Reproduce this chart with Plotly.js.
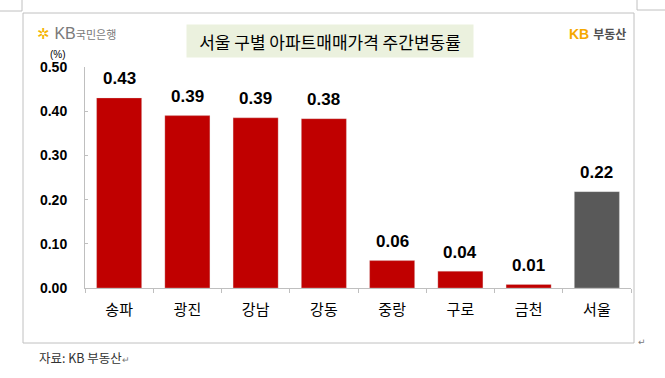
<!DOCTYPE html>
<html>
<head>
<meta charset="utf-8">
<script src="https://cdn.plot.ly/plotly-3.0.1.min.js"></script>
<style>
  html, body { margin: 0; padding: 0; background: #ffffff; }
  #chart { width: 665px; height: 378px; }
</style>
</head>
<body>
<div id="chart"></div>
<script>
// ---- data ----
const categories = ['송파', '광진', '강남', '강동', '중랑', '구로', '금천', '서울'];
const changeRates = [0.43, 0.39, 0.385, 0.383, 0.062, 0.038, 0.008, 0.218];
const valueLabels = ['0.43', '0.39', '0.39', '0.38', '0.06', '0.04', '0.01', '0.22'];
const yTickValues = [0, 0.1, 0.2, 0.3, 0.4, 0.5];
const yTickLabels = ['0.00', '0.10', '0.20', '0.30', '0.40', '0.50'];
const chartTitle = '서울 구별 아파트매매가격 주간변동률';
const unitLabel = '(%)';
const sourceLabel = '자료: KB 부동산';

// ---- layout helpers (plot area: x 85..631, y 67..288) ----
const L = 85, R = 631, T = 67, B = 288;
const xp = px => (px - L) / (R - L);
const yp = py => (B - py) / (B - T);

const RED = '#c00000', GRAY = '#595959';
const barColors = categories.map(c => c === '서울' ? GRAY : RED);

const trace = {
  type: 'bar',
  x: categories,
  y: changeRates,
  marker: { color: barColors, line: { color: 'rgba(220,220,220,0.6)', width: 0.5 } },
  hoverinfo: 'skip'
};

const labelAnnotations = categories.map((c, i) => ({
  x: c, y: changeRates[i], xref: 'x', yref: 'y',
  text: valueLabels[i], showarrow: false,
  xanchor: 'center', yanchor: 'middle', yshift: 19,
  font: { family: 'Liberation Sans, Arial, sans-serif', size: 17, color: '#000', weight: 'bold' }
}));

const annotations = labelAnnotations.concat([
  { // title box
    x: xp(330), y: yp(41), xref: 'paper', yref: 'paper',
    text: chartTitle, showarrow: false, xanchor: 'center', yanchor: 'middle',
    width: 286, height: 32, bgcolor: '#ebf1de', borderpad: 0,
    font: { family: 'Noto Sans CJK KR, sans-serif', size: 17, color: '#000' }
  },
  { // KB bank logo
    x: xp(35), y: yp(33), xref: 'paper', yref: 'paper', showarrow: false,
    xanchor: 'left', yanchor: 'middle',
    text: '<span style="color:#f5b400;font-size:15px">✲</span><span style="color:#7a7a7a;font-size:16px"> KB</span><span style="color:#7a7a7a;font-size:11px">국민은행</span>',
    font: { family: 'Liberation Sans, Noto Sans CJK KR, sans-serif', size: 12, color: '#7a7a7a' }
  },
  { // KB 부동산 logo
    x: xp(567), y: yp(34), xref: 'paper', yref: 'paper', showarrow: false,
    xanchor: 'left', yanchor: 'middle',
    text: '<b><span style="color:#f5a800">KB</span></b> <span style="color:#505050;font-size:12px"><b>부동산</b></span>',
    font: { family: 'Liberation Sans, Noto Sans CJK KR, sans-serif', size: 14, color: '#f5a800' }
  },
  { // unit
    x: xp(58), y: yp(54), xref: 'paper', yref: 'paper', showarrow: false,
    xanchor: 'center', yanchor: 'middle', text: unitLabel,
    font: { family: 'Liberation Sans, sans-serif', size: 10, color: '#000' }
  },
  { // source
    x: xp(37), y: yp(357), xref: 'paper', yref: 'paper', showarrow: false,
    xanchor: 'left', yanchor: 'middle',
    text: sourceLabel + '<span style="font-size:9px;color:#777">↵</span>',
    font: { family: 'Noto Sans CJK KR, sans-serif', size: 12.5, color: '#333' }
  },
  { // return mark
    x: xp(636), y: yp(342), xref: 'paper', yref: 'paper', showarrow: false,
    xanchor: 'left', yanchor: 'middle', text: '↵',
    font: { family: 'DejaVu Sans, sans-serif', size: 9, color: '#777' }
  }
]);

const lineStyle = { color: '#c0c0c0', width: 1 };
const shapes = [
  { type: 'rect', xref: 'paper', yref: 'paper', x0: xp(23), x1: xp(634), y0: yp(343), y1: yp(13), line: lineStyle, fillcolor: 'rgba(0,0,0,0)' },
  { type: 'line', xref: 'paper', yref: 'paper', x0: xp(0), x1: xp(22), y0: yp(11), y1: yp(11), line: lineStyle },
  { type: 'line', xref: 'paper', yref: 'paper', x0: xp(22), x1: xp(22), y0: yp(0), y1: yp(11), line: lineStyle },
  { type: 'line', xref: 'paper', yref: 'paper', x0: xp(637), x1: xp(637), y0: yp(0), y1: yp(10), line: lineStyle },
  { type: 'line', xref: 'paper', yref: 'paper', x0: xp(637), x1: xp(665), y0: yp(10), y1: yp(10), line: lineStyle }
];

const layout = {
  width: 665, height: 378,
  margin: { l: L, r: 665 - R, t: T, b: 378 - B, pad: 0 },
  paper_bgcolor: '#ffffff', plot_bgcolor: '#ffffff',
  showlegend: false,
  bargap: 0.34,
  xaxis: {
    type: 'category', range: [-0.5, categories.length - 0.5],
    showline: true, linecolor: '#bfbfbf', linewidth: 1,
    ticks: 'outside', ticklen: 4, tickcolor: '#bfbfbf', tickson: 'boundaries',
    showgrid: false, zeroline: false, fixedrange: true,
    ticklabelstandoff: 8,
    tickfont: { family: 'Noto Sans CJK KR, sans-serif', size: 15, color: '#000' }
  },
  yaxis: {
    range: [0, 0.5], tickvals: yTickValues, ticktext: yTickLabels,
    showline: true, linecolor: '#bfbfbf', linewidth: 1,
    ticks: 'inside', ticklen: 3, tickcolor: '#bfbfbf',
    showgrid: false, zeroline: false, fixedrange: true,
    ticklabelstandoff: 14,
    tickfont: { family: 'Liberation Sans, Arial, sans-serif', size: 14, color: '#000', weight: 'bold' }
  },
  annotations: annotations,
  shapes: shapes
};

Plotly.newPlot('chart', [trace], layout, { displayModeBar: false, staticPlot: true });
</script>
</body>
</html>
